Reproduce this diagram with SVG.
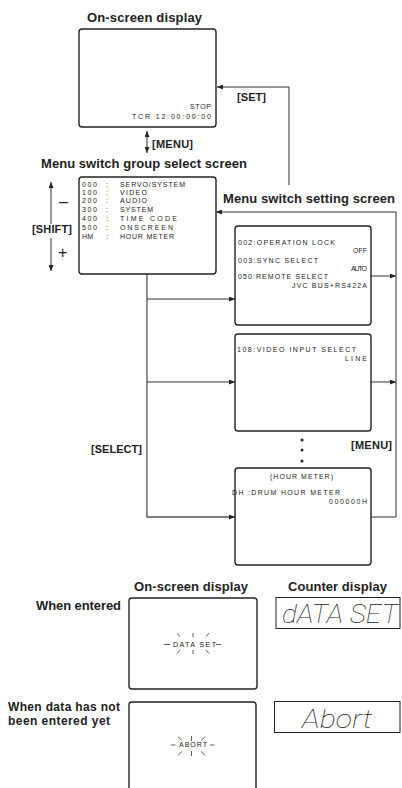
<svg xmlns="http://www.w3.org/2000/svg" width="402" height="788" viewBox="0 0 402 788">
<defs>
<style>
.h{font-family:"Liberation Sans",Arial,sans-serif;font-weight:bold;font-size:13px;fill:#222}
.h2{font-family:"Liberation Sans",Arial,sans-serif;font-weight:bold;font-size:12px;fill:#222}
.l{font-family:"Liberation Sans",Arial,sans-serif;font-weight:bold;font-size:11px;fill:#222}
.o{font-family:"Liberation Sans",Arial,sans-serif;font-size:7px;fill:#222}
.seg{font-family:Roboto,"Liberation Sans",sans-serif;font-weight:100;font-style:italic;font-size:25px;fill:#222}
.box{fill:#fff;stroke:#222;stroke-width:1.4}
.cbox{fill:#fff;stroke:#222;stroke-width:1}
.c{fill:none;stroke:#333;stroke-width:1}
.t{fill:none;stroke:#555;stroke-width:1.3}
.sp{stroke:#333;stroke-width:0.8;fill:none}
</style>
<marker id="ah" viewBox="0 0 6 5" refX="6" refY="2.5" markerWidth="6" markerHeight="5" markerUnits="userSpaceOnUse" orient="auto-start-reverse">
<path d="M0,0 L6,2.5 L0,5 z" fill="#222"/>
</marker>
</defs>

<g id="connectors">
<path class="c" d="M289,185 V87 H217" marker-end="url(#ah)"/>
<path class="c" d="M147,131 V153" marker-start="url(#ah)" marker-end="url(#ah)"/>
<path class="c" d="M51,224 V182" marker-end="url(#ah)"/>
<path class="c" d="M51,238 V271" marker-end="url(#ah)"/>
<path class="c" d="M371,517 H396 V212 H216" marker-end="url(#ah)"/>
<path class="c" d="M371,276 H396" marker-end="url(#ah)"/>
<path class="c" d="M371,382 H396" marker-end="url(#ah)"/>
<path class="t" d="M147,274 V517 H235" marker-end="url(#ah)"/>
<path class="c" d="M147,299 H235" marker-end="url(#ah)"/>
<path class="c" d="M147,382 H235" marker-end="url(#ah)"/>
</g>

<g id="labels">
<text class="l" x="237" y="101" textLength="29">[SET]</text>
<text class="l" x="152" y="148" textLength="41">[MENU]</text>
<text class="l" x="32" y="233" textLength="40">[SHIFT]</text>
<text x="59" y="207" style="font-family:'Liberation Sans',sans-serif;font-size:16px;fill:#222">–</text>
<text x="58" y="258" style="font-family:'Liberation Sans',sans-serif;font-size:16px;fill:#222">+</text>
<text class="l" x="91" y="453" textLength="51">[SELECT]</text>
<text class="l" x="351" y="449" textLength="41">[MENU]</text>
<circle cx="302" cy="440" r="1.5" fill="#222"/>
<circle cx="302" cy="450" r="1.5" fill="#222"/>
<circle cx="302" cy="461" r="1.5" fill="#222"/>
</g>

<g id="osd-top">
<text class="h" x="87" y="22" textLength="115">On-screen display</text>
<rect class="box" x="79" y="29" width="137" height="98" rx="3"/>
<text class="o" x="190" y="109" textLength="21">STOP</text>
<text class="o" x="132" y="119" textLength="79">TCR 12:00:00:00</text>
</g>

<g id="group-select">
<text class="h" x="41" y="168" textLength="206">Menu switch group select screen</text>
<rect class="box" x="79" y="177" width="137" height="97" rx="3"/>
<text class="o" x="82" y="187" textLength="15">000</text><text class="o" x="106" y="187">:</text><text class="o" x="120" y="187" textLength="65">SERVO/SYSTEM</text>
<text class="o" x="82" y="195" textLength="15">100</text><text class="o" x="106" y="195">:</text><text class="o" x="120" y="195" textLength="27">VIDEO</text>
<text class="o" x="82" y="203" textLength="15">200</text><text class="o" x="106" y="203">:</text><text class="o" x="120" y="203" textLength="27">AUDIO</text>
<text class="o" x="82" y="212" textLength="15">300</text><text class="o" x="106" y="212">:</text><text class="o" x="120" y="212" textLength="33">SYSTEM</text>
<text class="o" x="82" y="221" textLength="15">400</text><text class="o" x="106" y="221">:</text><text class="o" x="120" y="221" textLength="57">TIME CODE</text>
<text class="o" x="82" y="230" textLength="15">500</text><text class="o" x="106" y="230">:</text><text class="o" x="120" y="230" textLength="53">ONSCREEN</text>
<text class="o" x="82" y="239" textLength="11">HM</text><text class="o" x="106" y="239">:</text><text class="o" x="120" y="239" textLength="54">HOUR METER</text>
</g>

<g id="setting-1">
<text class="h" x="223" y="203" textLength="172">Menu switch setting screen</text>
<rect class="box" x="235" y="226" width="136" height="99" rx="3"/>
<text class="o" x="238" y="245" textLength="97">002:OPERATION LOCK</text>
<text class="o" x="353" y="253" textLength="14">OFF</text>
<text class="o" x="238" y="263" textLength="80">003:SYNC SELECT</text>
<text class="o" x="351" y="271" textLength="16">AUTO</text>
<text class="o" x="238" y="279" textLength="90">050:REMOTE SELECT</text>
<text class="o" x="292" y="288" textLength="75">JVC BUS+RS422A</text>
</g>

<g id="setting-2">
<rect class="box" x="235" y="334" width="136" height="97" rx="3"/>
<text class="o" x="237" y="352" textLength="119">108:VIDEO INPUT SELECT</text>
<text class="o" x="345" y="361" textLength="22">LINE</text>
</g>

<g id="setting-3">
<rect class="box" x="235" y="468" width="136" height="97" rx="3"/>
<text class="o" x="270" y="479" textLength="63">(HOUR METER)</text>
<text class="o" x="232" y="495" textLength="108">DH :DRUM HOUR METER</text>
<text class="o" x="329" y="504" textLength="38">000000H</text>
</g>

<g id="entered">
<text class="h" x="134" y="591" textLength="114">On-screen display</text>
<text class="h" x="288" y="591" textLength="99">Counter display</text>
<text class="h" x="36" y="610" textLength="85">When entered</text>
<rect class="box" x="129" y="598" width="128" height="91" rx="3"/>
<text class="o" x="173" y="647" textLength="43">DATA SET</text>
<g class="sp">
<line x1="164" y1="644.5" x2="170" y2="644.5"/><line x1="216" y1="644.5" x2="221" y2="644.5"/>
<line x1="177" y1="633" x2="180" y2="636.5"/><line x1="193" y1="633" x2="193" y2="637"/><line x1="209" y1="633" x2="206" y2="636.5"/>
<line x1="177" y1="653.5" x2="180" y2="650"/><line x1="193" y1="650" x2="193" y2="654"/><line x1="209" y1="653.5" x2="206" y2="650"/>
</g>
<rect class="cbox" x="276" y="597.5" width="124" height="31"/>
<text class="seg" x="282" y="623" textLength="116" lengthAdjust="spacingAndGlyphs">dATA SET</text>
</g>

<g id="not-entered">
<text class="h2" x="8" y="711" textLength="112">When data has not</text>
<text class="h2" x="8" y="725" textLength="102">been entered yet</text>
<rect class="box" x="129" y="702" width="127" height="100" rx="3"/>
<text class="o" x="179" y="747" textLength="28">ABORT</text>
<g class="sp">
<line x1="171" y1="745" x2="175.5" y2="745"/><line x1="210" y1="745" x2="214.5" y2="745"/>
<line x1="178" y1="736.5" x2="181.5" y2="740.5"/><line x1="191.5" y1="736" x2="191.5" y2="741"/><line x1="205" y1="736.5" x2="201.5" y2="740.5"/>
<line x1="178" y1="755.5" x2="181.5" y2="751.5"/><line x1="191.5" y1="751" x2="191.5" y2="756"/><line x1="205" y1="755.5" x2="201.5" y2="751.5"/>
</g>
<rect class="cbox" x="274.5" y="701.5" width="125.5" height="31"/>
<text class="seg" x="302" y="728" textLength="70" lengthAdjust="spacingAndGlyphs">Abort</text>
</g>
</svg>
